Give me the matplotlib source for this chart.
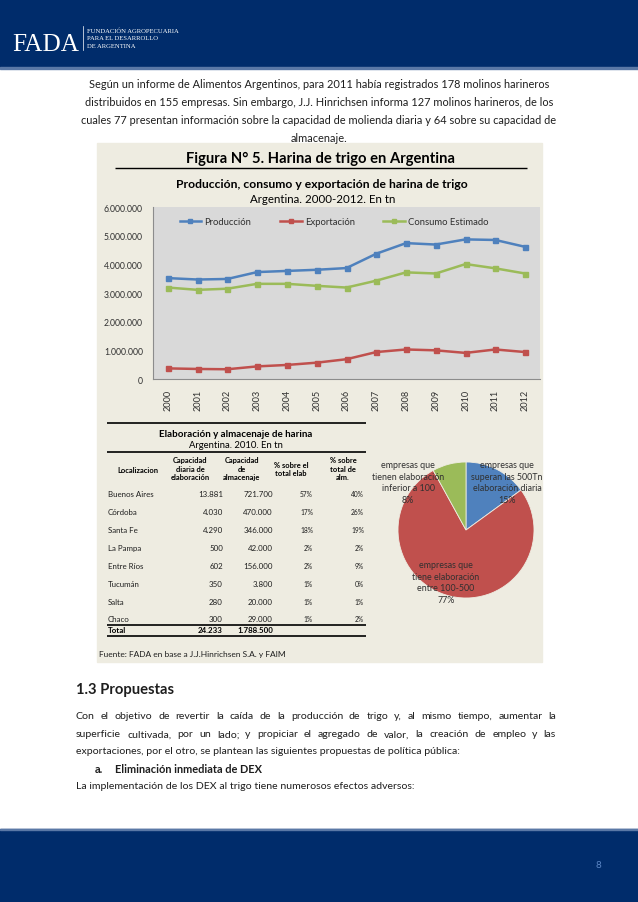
import matplotlib
matplotlib.use('Agg')
import matplotlib.pyplot as plt
from matplotlib.patches import Rectangle
from matplotlib.ticker import FuncFormatter

# ---------------- data ----------------
years = [2000, 2001, 2002, 2003, 2004, 2005, 2006, 2007, 2008, 2009, 2010, 2011, 2012]
produccion = [3520000, 3470000, 3490000, 3730000, 3770000, 3810000, 3870000,
              4370000, 4740000, 4690000, 4870000, 4850000, 4610000]
exportacion = [370000, 350000, 340000, 440000, 490000, 570000, 690000,
               940000, 1030000, 1000000, 910000, 1030000, 940000]
consumo = [3190000, 3110000, 3150000, 3320000, 3320000, 3250000, 3190000,
           3430000, 3720000, 3680000, 4010000, 3860000, 3680000]
series_names = ["Producción", "Exportación", "Consumo Estimado"]

table_locs = ["Buenos Aires", "Córdoba", "Santa Fe", "La Pampa", "Entre Ríos",
              "Tucumán", "Salta", "Chaco"]
cap_elab = [13881, 4030, 4290, 500, 602, 350, 280, 300]
cap_alm = [721700, 470000, 346000, 42000, 156000, 3800, 20000, 29000]
pct_elab = [57, 17, 18, 2, 2, 1, 1, 1]
pct_alm = [40, 26, 19, 2, 9, 0, 1, 2]
total_elab = 24233
total_alm = 1788500

pie_labels = ["empresas que\nsuperan las 500Tn\nelaboración diaria",
              "empresas que\ntiene elaboración\nentre 100-500",
              "empresas que\ntienen elaboración\ninferior a 100"]
pie_values = [15, 77, 8]

# ---------------- setup ----------------
W, H = 638, 903
FONT = ['Lato', 'DejaVu Sans']
SERIF = ['Liberation Serif', 'DejaVu Serif']
plt.rcParams['font.family'] = FONT
TXT = '#1E1E1E'
NAVY = '#002C6B'
PANEL = '#EEECE1'

fig = plt.figure(figsize=(W / 100, H / 100), dpi=100)
fig.patch.set_facecolor('white')
bg = fig.add_axes([0, 0, 1, 1])
bg.set_xlim(0, W)
bg.set_ylim(H, 0)
bg.axis('off')
R = fig.canvas.get_renderer()


def tw(s, size, weight='normal', family=FONT):
    t = bg.text(0, 0, s, fontsize=size, fontweight=weight, family=family)
    w = t.get_window_extent(renderer=R).width
    t.remove()
    return w


def fit(s, width, weight='normal', family=FONT):
    return 10 * width / tw(s, 10, weight, family)


def justify(line, x0, x1, y, size, color=TXT):
    words = line.split()
    ws = [tw(w, size) for w in words]
    gap = (x1 - x0 - sum(ws)) / (len(words) - 1)
    x = x0
    for w, wd in zip(words, ws):
        bg.text(x, y, w, fontsize=size, ha='left', va='center', color=color)
        x += wd + gap


def hline(x0, x1, y, lw=1.0, color='black'):
    bg.plot([x0, x1], [y, y], color=color, lw=lw, solid_capstyle='butt')


# ---------------- header / footer ----------------
bg.add_patch(Rectangle((0, 0), W, 68, color=NAVY, zorder=0))
bg.add_patch(Rectangle((0, 68), W, 1.5, color='#5A78A6', zorder=0))
bg.add_patch(Rectangle((0, 830), W, H - 830, color=NAVY, zorder=0))
bg.add_patch(Rectangle((0, 830), W, 1.5, color='#5A78A6', zorder=0))
fs = fit("FADA", 67, family=SERIF)
bg.text(12, 51, "FADA", fontsize=fs, family=SERIF, color='white', ha='left', va='baseline')
bg.plot([83, 83], [27, 51], color='white', lw=0.5)
fs = fit("FUNDACIÓN AGROPECUARIA", 93, family=SERIF)
for i, s in enumerate(["FUNDACIÓN AGROPECUARIA", "PARA EL DESARROLLO", "DE ARGENTINA"]):
    bg.text(87, 31 + 8 * i, s, fontsize=fs, family=SERIF, color='white', ha='left', va='center')
bg.text(598, 866, "8", fontsize=7, color='#5B86C5', ha='center', va='center')

# ---------------- intro paragraph ----------------
intro = ["Según un informe de Alimentos Argentinos, para 2011 había registrados 178 molinos harineros",
         "distribuidos en 155 empresas. Sin embargo, J.J. Hinrichsen informa 127 molinos harineros, de los",
         "cuales 77 presentan información sobre la capacidad de molienda diaria y 64 sobre su capacidad de",
         "almacenaje."]
fs_body = fit(intro[0], 456)
for s, y in zip(intro, [84, 103, 121, 139]):
    bg.text(319, y, s, fontsize=fs_body, ha='center', va='center', color=TXT)

# ---------------- panel ----------------
bg.add_patch(Rectangle((97, 144), 542 - 97, 663 - 144, color=PANEL, zorder=0))
s = "Figura N° 5. Harina de trigo en Argentina"
bg.text(320, 159, s, fontsize=fit(s, 268, 'bold'), fontweight='bold', ha='center', va='center', color='black')
hline(115, 527, 169, lw=1.0)
s = "Producción, consumo y exportación de harina de trigo"
bg.text(322, 184, s, fontsize=fit(s, 290, 'bold'), fontweight='bold', ha='center', va='center', color='black')
s = "Argentina. 2000-2012. En tn"
bg.text(323, 200, s, fontsize=fit(s, 145), ha='center', va='center', color='black')

# ---------------- line chart ----------------
ax = fig.add_axes([153 / W, 1 - 380 / H, (540 - 153) / W, (380 - 208) / H])
ax.set_facecolor('#D9D9D9')
xs = list(range(len(years)))
colors = ['#4F81BD', '#C0504D', '#9BBB59']
for vals, name, c in zip([produccion, exportacion, consumo], series_names, colors):
    ax.plot(xs, vals, color=c, lw=1.8, marker='s', ms=3.6, mec=c, mfc=c, label=name)
ax.set_xlim(-0.5, len(years) - 0.5)
ax.set_ylim(0, 6000000)
ax.set_yticks(range(0, 6000001, 1000000))
ax.yaxis.set_major_formatter(FuncFormatter(lambda v, p: f"{int(v):,}".replace(",", ".")))
ax.set_xticks(xs)
ax.set_xticklabels([str(y) for y in years], rotation=90)
ax.tick_params(axis='y', length=0, labelsize=6.2, pad=7.2, colors='#303030')
ax.tick_params(axis='x', length=0, labelsize=6.6, pad=7.0, colors='#303030')
for sp in ['top', 'right']:
    ax.spines[sp].set_visible(False)
for sp in ['left', 'bottom']:
    ax.spines[sp].set_color('#8C8C8C')
    ax.spines[sp].set_linewidth(0.8)
leg = ax.legend(loc='center', bbox_to_anchor=(0.468, 0.913), ncol=3, frameon=False,
                fontsize=6.8, handlelength=2.3, handletextpad=0.35, columnspacing=3.0,
                markerscale=0.9)
for t in leg.get_texts():
    t.set_color('#303030')

# ---------------- table ----------------
s = "Elaboración y almacenaje de harina"
bg.text(236, 435, s, fontsize=fit(s, 153, 'bold'), fontweight='bold', ha='center', va='center', color='black')
s = "Argentina. 2010. En tn"
bg.text(236, 445.5, s, fontsize=fit(s, 94), ha='center', va='center', color='black')
hline(107, 366, 424, lw=1.2)
hline(107, 366, 453, lw=1.2)

fs_h = fit("Localizacion", 41, 'bold')
hdr = dict(fontsize=fs_h, fontweight='bold', ha='center', va='center', color='black')
bg.text(138, 471, "Localizacion", **hdr)
for s, y in zip(["Capacidad", "diaria de", "elaboración"], [461, 469.5, 478]):
    bg.text(190, y, s, **hdr)
for s, y in zip(["Capacidad", "de", "almacenaje"], [461, 469.5, 478]):
    bg.text(242, y, s, **hdr)
for s, y in zip(["% sobre el", "total elab"], [466, 474]):
    bg.text(291, y, s, **hdr)
for s, y in zip(["% sobre", "total de", "alm."], [461, 469.5, 478]):
    bg.text(343, y, s, **hdr)

fs_t = fit("Buenos Aires", 46)
fs_p = fit("57%", 13)
dot = lambda v: f"{v:,}".replace(",", ".")
row_y0, row_dy = 495, (620 - 495) / 7
for i, loc in enumerate(table_locs):
    y = row_y0 + i * row_dy
    bg.text(108, y, loc, fontsize=fs_t, ha='left', va='center', color=TXT)
    bg.text(223, y, dot(cap_elab[i]), fontsize=fs_t, ha='right', va='center', color=TXT)
    bg.text(273, y, dot(cap_alm[i]), fontsize=fs_t, ha='right', va='center', color=TXT)
    bg.text(313, y, f"{pct_elab[i]}%", fontsize=fs_p, ha='right', va='center', color=TXT)
    bg.text(364, y, f"{pct_alm[i]}%", fontsize=fs_p, ha='right', va='center', color=TXT)
hline(107, 366, 626, lw=1.2)
bg.text(108, 631, "Total", fontsize=fs_t, fontweight='bold', ha='left', va='center', color='black')
bg.text(223, 631, dot(total_elab), fontsize=fs_t, fontweight='bold', ha='right', va='center', color='black')
bg.text(273, 631, dot(total_alm), fontsize=fs_t, fontweight='bold', ha='right', va='center', color='black')
hline(107, 366, 637, lw=1.2)
s = "Fuente: FADA en base a J.J.Hinrichsen S.A. y FAIM"
bg.text(99, 655, s, fontsize=fit(s, 186), ha='left', va='center', color=TXT)

# ---------------- pie ----------------
pcx, pcy, pr = 466, 531, 68
pax = fig.add_axes([(pcx - pr) / W, 1 - (pcy + pr) / H, 2 * pr / W, 2 * pr / H])
pax.pie(pie_values, colors=['#4F81BD', '#C0504D', '#9BBB59'], startangle=90, counterclock=False,
        wedgeprops=dict(edgecolor=PANEL, linewidth=0.6))
pax.set_aspect('equal')
pax.set_xlim(-1, 1)
pax.set_ylim(-1, 1)

top = fig.add_axes([0, 0, 1, 1])
top.set_xlim(0, W)
top.set_ylim(H, 0)
top.axis('off')
top.patch.set_alpha(0)
fs_pie = fit("superan las 500Tn", 72)
label_pos = [(507, 483), (446, 583), (408, 483)]
for lab, v, (lx, ly) in zip(pie_labels, pie_values, label_pos):
    top.text(lx, ly, f"{lab}\n{v}%", fontsize=fs_pie, ha='center', va='center',
             color='#303030', linespacing=1.35)

# ---------------- proposals ----------------
s = "1.3 Propuestas"
bg.text(76, 690, s, fontsize=fit(s, 98, 'bold'), fontweight='bold', ha='left', va='center', color=TXT)
para = ["Con el objetivo de revertir la caída de la producción de trigo y, al mismo tiempo, aumentar la",
        "superficie cultivada, por un lado; y propiciar el agregado de valor, la creación de empleo y las",
        "exportaciones, por el otro, se plantean las siguientes propuestas de política pública:"]
fs_p2 = fit(para[2], 382)
justify(para[0], 76, 556, 717, fs_p2)
justify(para[1], 76, 556, 735, fs_p2)
bg.text(76, 752, para[2], fontsize=fs_p2, ha='left', va='center', color=TXT)
s = "Eliminación inmediata de DEX"
fsb = fit(s, 147, 'bold')
bg.text(95, 770, "a.", fontsize=fsb, fontweight='bold', ha='left', va='center', color=TXT)
bg.text(115, 770, s, fontsize=fsb, fontweight='bold', ha='left', va='center', color=TXT)
bg.text(76, 787, "La implementación de los DEX al trigo tiene numerosos efectos adversos:",
        fontsize=fs_p2, ha='left', va='center', color=TXT)

fig.savefig('out.png', dpi=100, facecolor='white')
